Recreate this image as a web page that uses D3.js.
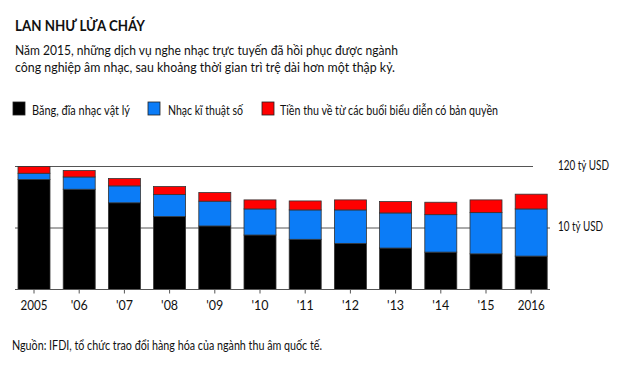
<!DOCTYPE html>
<html><head><meta charset="utf-8">
<script src="https://cdn.jsdelivr.net/npm/d3@7"></script>
<style>
body{margin:0;background:#fff;}
svg{display:block;font-family:"Lato","Noto Sans",sans-serif;}
</style></head><body>
<svg id="c" width="630" height="381"></svg>
<script>
const years = ["2005","'06","'07","'08","'09","'10","'11","'12","'13","'14","'15","2016"];
const physical = [17.9,16.3,14.1,11.85,10.33,8.86,8.16,7.5,6.74,6.08,5.8,5.43];
const digital = [1.0,2.0,2.75,3.58,4.03,4.24,4.78,5.44,5.71,6.09,6.7,7.67];
const performance = [1.1,1.05,1.2,1.31,1.4,1.47,1.46,1.63,1.85,2.02,2.07,2.4];
const seriesNames = ["Băng, đĩa nhạc vật lý","Nhạc kĩ thuật số","Tiền thu về từ các buổi biểu diễn có bản quyền"];
const colors = ["#000000","#0b7cf7","#ff0000"];
const tickValues = [10,20];
const tickLabels = ["10 tỷ USD","120 tỷ USD"];

const svg = d3.select("#c");
function txt(x,y,size,len,s,weight){
  const t = svg.append("text").attr("x",x).attr("y",y).attr("font-size",size).attr("fill","#111").text(s);
  if(weight) t.attr("font-weight",weight);
  if(len) t.attr("textLength",len).attr("lengthAdjust","spacingAndGlyphs");
  return t;
}
txt(15,31,16,130,"LAN NHƯ LỬA CHÁY",700);
txt(15,55,14,383,"Năm 2015, những dịch vụ nghe nhạc trực tuyến đã hồi phục được ngành");
txt(15,72,14,380,"công nghiệp âm nhạc, sau khoảng thời gian trì trệ dài hơn một thập kỷ.");

// legend
const legX = [13,148,262];
const legTextX = [32,168,280];
const legLen = [98,75,218];
seriesNames.forEach((n,i)=>{
  svg.append("rect").attr("x",legX[i]).attr("y",102).attr("width",12).attr("height",13).attr("fill",colors[i]).attr("stroke","#222").attr("stroke-width",0.8);
  txt(legTextX[i],115,13,legLen[i],n);
});

const x = d3.scaleBand().domain(years).range([11.4,553.8]).paddingInner(0.292).paddingOuter(0.146);
const y = d3.scaleLinear().domain([0,20]).range([289.5,166.5]);

const data = years.map((yr,i)=>({year:yr,physical:physical[i],digital:digital[i],performance:performance[i]}));
const stack = d3.stack().keys(["physical","digital","performance"])(data);

// gridlines
svg.append("line").attr("x1",15).attr("x2",533).attr("y1",y(20)).attr("y2",y(20)).attr("stroke","#555").attr("stroke-width",1);
svg.append("line").attr("x1",15).attr("x2",550).attr("y1",y(10)).attr("y2",y(10)).attr("stroke","#555").attr("stroke-width",1);

const g = svg.append("g");
stack.forEach((s,k)=>{
  g.selectAll(null).data(s).enter().append("rect")
   .attr("x",d=>x(d.data.year)).attr("width",x.bandwidth())
   .attr("y",d=>y(d[1])).attr("height",d=>y(d[0])-y(d[1]))
   .attr("fill",colors[k]).attr("stroke","#333").attr("stroke-width",0.8);
});

// x axis
const xa = svg.append("g").attr("transform",`translate(0,${y(0)})`)
  .call(d3.axisBottom(x).tickSize(4).tickPadding(6).tickSizeOuter(0));
xa.select(".domain").remove();
xa.append("line").attr("x1",15).attr("x2",550).attr("stroke","#555");
xa.selectAll(".tick line").attr("stroke","#555");
xa.selectAll(".tick text").attr("font-size",13).attr("fill","#111").attr("font-family","Lato, sans-serif")
  .attr("dy",null).attr("y",20)
  .each(function(d){ const w = d.length===4 ? 27 : 17; d3.select(this).attr("textLength",w).attr("lengthAdjust","spacingAndGlyphs"); });

// right labels
tickValues.forEach((v,i)=>{
  txt(558,y(v)+3,13,i===1?51:45,tickLabels[i]);
});
svg.append("line").attr("x1",545).attr("x2",550).attr("y1",y(0)).attr("y2",y(0)).attr("stroke","#555");

txt(12,350,13,310,"Nguồn: IFDI, tổ chức trao đổi hàng hóa của ngành thu âm quốc tế.");
</script>
</body></html>
